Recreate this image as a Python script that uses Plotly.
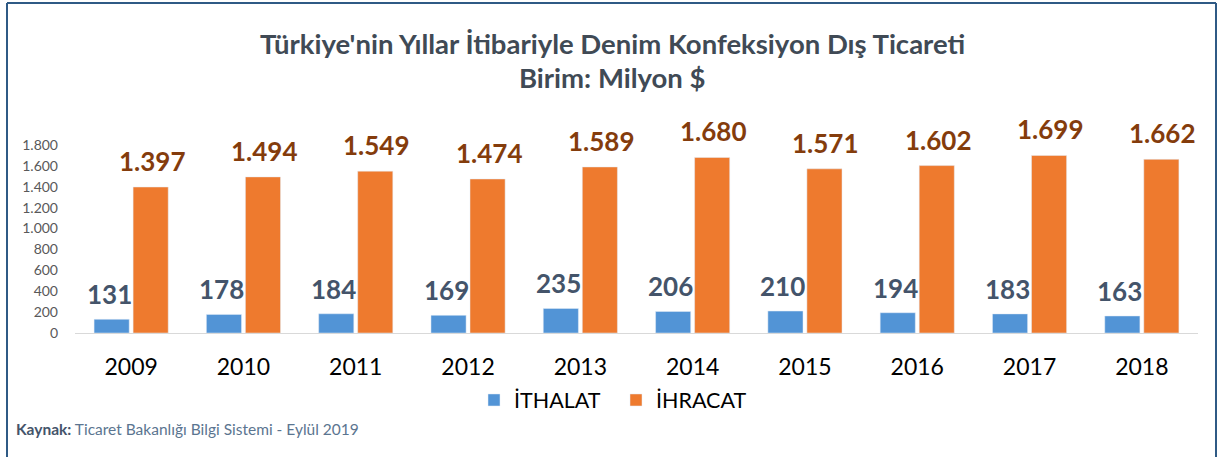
import plotly.graph_objects as go

years = ["2009", "2010", "2011", "2012", "2013", "2014", "2015", "2016", "2017", "2018"]
ithalat = [131, 178, 184, 169, 235, 206, 210, 194, 183, 163]
ihracat = [1397, 1494, 1549, 1474, 1589, 1680, 1571, 1602, 1699, 1662]
y_ticks = [0, 200, 400, 600, 800, 1000, 1200, 1400, 1600, 1800]

FONT = "Lato"
W, H = 1218, 457
L, R, T, B = 75, 20, 124, 124
pw = W - L - R
ph = H - T - B


def px_x(x):
    return (x - L) / pw


def px_y(y):
    return (H - B - y) / ph


def tr(v):
    return f"{v:,}".replace(",", ".")


fig = go.Figure()
fig.add_trace(go.Bar(name="İTHALAT", x=years, y=ithalat, marker_color="#5294D6"))
fig.add_trace(go.Bar(name="İHRACAT", x=years, y=ihracat, marker_color="#EE7A2E"))

ann = []
for i, (a, b) in enumerate(zip(ithalat, ihracat)):
    ann.append(dict(x=i, y=a, xref="x", yref="y", text=f"<b>{tr(a)}</b>", showarrow=False,
                    xshift=-22, yshift=25, yanchor="middle",
                    font=dict(family=FONT, size=26, color="#44546A")))
    ann.append(dict(x=i, y=b, xref="x", yref="y", text=f"<b>{tr(b)}</b>", showarrow=False,
                    xshift=21, yshift=26, yanchor="middle",
                    font=dict(family=FONT, size=26, color="#843C0C")))

ann.append(dict(x=px_x(612), y=px_y(43), xref="paper", yref="paper", showarrow=False,
                text="<b>Türkiye'nin Yıllar İtibariyle Denim Konfeksiyon Dış Ticareti</b>",
                xanchor="center", yanchor="middle",
                font=dict(family=FONT, size=27.5, color="#404A55")))
ann.append(dict(x=px_x(612), y=px_y(77), xref="paper", yref="paper", showarrow=False,
                text="<b>Birim: Milyon $</b>",
                xanchor="center", yanchor="middle",
                font=dict(family=FONT, size=27.5, color="#404A55")))
ann.append(dict(x=px_x(14), y=px_y(429), xref="paper", yref="paper", showarrow=False,
                text="<b><span style='color:#44546A'>Kaynak:</span></b> Ticaret Bakanlığı Bilgi Sistemi - Eylül 2019",
                xanchor="left", yanchor="middle",
                font=dict(family=FONT, size=15.5, color="#5B7590")))

shapes = [
    dict(type="line", xref="paper", yref="paper", x0=px_x(7), x1=px_x(7), y0=px_y(3), y1=px_y(460),
         line=dict(color="#2F5A85", width=2)),
    dict(type="line", xref="paper", yref="paper", x0=px_x(7), x1=px_x(1216), y0=px_y(3), y1=px_y(3),
         line=dict(color="#2F5A85", width=2)),
    dict(type="line", xref="paper", yref="paper", x0=px_x(1216), x1=px_x(1216), y0=px_y(3), y1=px_y(460),
         line=dict(color="#2F5A85", width=2)),
]

fig.update_layout(
    width=W, height=H,
    margin=dict(l=L, r=R, t=T, b=B, pad=0),
    paper_bgcolor="white", plot_bgcolor="white",
    barmode="group", bargap=0.305, bargroupgap=0.1,
    showlegend=True,
    legend=dict(orientation="h", x=px_x(474), y=px_y(400), xanchor="left", yanchor="middle",
                font=dict(family=FONT, size=21.5, color="#000000"), traceorder="normal",
                entrywidth=97, entrywidthmode="pixels",
                bgcolor="rgba(0,0,0,0)"),
    annotations=ann,
    shapes=shapes,
    font=dict(family=FONT),
)
fig.update_xaxes(type="category", range=[-0.5, len(years) - 0.5], autorange=False,
                 showline=True, linecolor="#D9D9D9", linewidth=1, showgrid=False,
                 ticks="", tickfont=dict(family=FONT, size=23, color="#000000"),
                 ticklabelstandoff=13)
fig.update_yaxes(range=[0, 2000], autorange=False, tickvals=y_ticks, ticktext=[tr(v) for v in y_ticks],
                 showgrid=False, zeroline=False, showline=False, ticks="",
                 tickfont=dict(family=FONT, size=14, color="#595959"), ticklabelstandoff=16)

fig.write_html("out.html")
